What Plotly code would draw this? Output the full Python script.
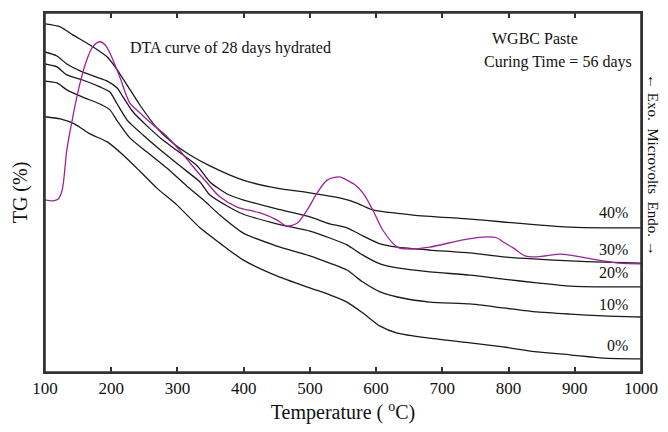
import plotly.graph_objects as go

# ---- data (temperature in °C, TG in arbitrary plot units) ----
t40 = [100, 123, 142, 168, 194, 209, 224, 243, 269, 293, 319, 349, 399, 450, 500, 545, 571, 595, 656, 742, 792, 843, 893, 943, 1000]
tg40 = [95.6, 94.8, 92.6, 89.8, 86.5, 83.0, 78.8, 73.4, 67.0, 62.9, 59.6, 56.6, 52.7, 50.5, 49.2, 47.8, 46.4, 44.5, 43.1, 42.0, 41.2, 40.4, 39.8, 39.6, 39.6]

t30 = [100, 118, 133, 153, 178, 194, 209, 218, 233, 254, 278, 304, 330, 349, 375, 399, 450, 500, 530, 556, 580, 606, 632, 681, 742, 792, 843, 893, 943, 1000]
tg30 = [87.9, 86.8, 84.6, 82.7, 81.0, 79.9, 78.0, 75.5, 71.4, 67.6, 63.7, 60.2, 56.6, 52.2, 48.9, 47.3, 44.8, 42.6, 40.7, 39.6, 37.4, 35.2, 34.3, 33.5, 32.7, 31.6, 31.0, 30.5, 30.2, 29.9]

t20 = [100, 118, 133, 157, 183, 198, 209, 224, 248, 278, 308, 334, 349, 375, 399, 450, 500, 530, 556, 580, 606, 632, 681, 742, 792, 843, 893, 943, 1000]
tg20 = [84.6, 83.8, 81.6, 80.2, 78.3, 76.9, 73.6, 69.2, 65.1, 60.4, 56.0, 52.2, 48.6, 45.6, 43.4, 40.7, 38.7, 36.8, 34.9, 32.1, 29.7, 28.6, 27.5, 26.6, 25.5, 24.5, 23.6, 23.4, 23.4]

t10 = [100, 118, 133, 157, 183, 198, 209, 228, 254, 284, 314, 339, 364, 399, 450, 500, 530, 556, 580, 606, 632, 681, 742, 792, 843, 893, 943, 1000]
tg10 = [79.9, 79.4, 77.5, 75.5, 73.6, 72.0, 69.0, 64.3, 60.4, 56.0, 51.1, 47.3, 43.1, 38.2, 34.6, 31.9, 29.9, 28.0, 24.7, 22.0, 20.6, 19.2, 18.7, 17.6, 16.5, 15.9, 15.4, 15.1]

t0 = [100, 123, 145, 168, 194, 218, 243, 269, 299, 334, 364, 399, 450, 500, 530, 556, 580, 606, 632, 681, 742, 792, 843, 893, 943, 1000]
tg0 = [70.1, 69.5, 68.1, 65.4, 63.2, 59.6, 55.2, 50.5, 45.9, 39.6, 35.4, 30.8, 26.4, 23.1, 21.2, 19.2, 16.2, 12.6, 10.7, 9.3, 8.0, 6.9, 5.5, 4.7, 3.8, 3.6]

t_dta = [100, 112, 120, 126, 133, 142, 153, 163, 172, 183, 191, 198, 213, 228, 243, 263, 278, 299, 319, 345, 364, 390, 425, 450, 465, 481, 496, 511, 526, 545, 556, 568, 580, 595, 610, 632, 647, 681, 731, 767, 783, 792, 807, 825, 843, 878, 893, 918, 943, 968, 1000]
dta = [47.3, 47.0, 47.5, 50.0, 61.0, 70.1, 79.4, 85.7, 89.3, 90.7, 89.8, 87.6, 81.0, 73.9, 71.2, 67.9, 65.7, 61.8, 57.4, 51.9, 48.1, 45.3, 43.7, 41.8, 40.1, 40.9, 44.5, 49.2, 52.7, 53.6, 52.7, 51.4, 49.2, 44.5, 39.0, 34.3, 33.8, 34.3, 36.3, 37.1, 36.8, 35.7, 34.1, 31.9, 31.6, 32.4, 32.1, 31.3, 30.5, 29.9, 29.7]

series_labels = ["40%", "30%", "20%", "10%", "0%"]
label_y = [0.443, 0.340, 0.276, 0.189, 0.075]
x_ticks = [100, 200, 300, 400, 500, 600, 700, 800, 900, 1000]

FONT = "Liberation Serif, Times New Roman, serif"

fig = go.Figure()
for tx, ty, name in [(t40, tg40, "40%"), (t30, tg30, "30%"), (t20, tg20, "20%"), (t10, tg10, "10%"), (t0, tg0, "0%")]:
    fig.add_trace(go.Scatter(x=tx, y=ty, mode="lines", name=name,
                             line=dict(color="#1a1a1a", width=1.3, shape="spline", smoothing=0.6)))
fig.add_trace(go.Scatter(x=t_dta, y=dta, mode="lines", name="DTA",
                         line=dict(color="#a0209f", width=1.3, shape="spline", smoothing=0.8)))

annotations = []
for lab, yy in zip(series_labels, label_y):
    annotations.append(dict(text=lab, x=0.982, y=yy, xref="paper", yref="paper",
                            xanchor="right", yanchor="middle", showarrow=False,
                            font=dict(family=FONT, size=16, color="#111")))
annotations += [
    dict(text="DTA curve of 28 days hydrated", x=0.312, y=0.9025, xref="paper", yref="paper",
         xanchor="center", yanchor="middle", showarrow=False, font=dict(family=FONT, size=16, color="#111")),
    dict(text="WGBC Paste", x=0.822, y=0.9276, xref="paper", yref="paper",
         xanchor="center", yanchor="middle", showarrow=False, font=dict(family=FONT, size=16, color="#111")),
    dict(text="Curing Time = 56 days", x=0.988, y=0.8635, xref="paper", yref="paper",
         xanchor="right", yanchor="middle", showarrow=False, font=dict(family=FONT, size=16, color="#111")),
    dict(text="\u2190 Exo.  Microvolts  Endo. \u2192", x=1.02, y=0.5766, xref="paper", yref="paper",
         xanchor="center", yanchor="middle", textangle=90, showarrow=False,
         font=dict(family=FONT, size=15, color="#111")),
]

# page body has an 8px default margin, so the figure is sized to fit inside the 668x432 window
fig.update_layout(
    width=660, height=424,
    margin=dict(l=37, r=27, t=5, b=60, autoexpand=False),
    paper_bgcolor="white", plot_bgcolor="white",
    showlegend=False,
    font=dict(family=FONT, color="#111"),
    annotations=annotations,
    shapes=[dict(type="rect", xref="paper", yref="paper", x0=0, y0=0, x1=1, y1=1,
                 line=dict(color="#333", width=1.6), fillcolor="rgba(0,0,0,0)", layer="above")],
)
fig.update_xaxes(range=[100, 1000], tickvals=x_ticks, ticks="inside", ticklen=5, tickwidth=1.5,
                 tickcolor="#333", showline=True, linecolor="#333", linewidth=2, mirror="all",
                 showgrid=False, zeroline=False, automargin=False, tickfont=dict(family=FONT, size=17),
                 title=dict(text="Temperature ( <sup>o</sup>C)", font=dict(family=FONT, size=20), standoff=8))
fig.update_yaxes(range=[0, 98.6], showticklabels=False, ticks="", showline=True, linecolor="#333",
                 linewidth=2, mirror="all", showgrid=False, zeroline=False, automargin=False,
                 title=dict(text="TG (%)", font=dict(family=FONT, size=20), standoff=10))

fig.write_html("out.html", config={"displayModeBar": False})
